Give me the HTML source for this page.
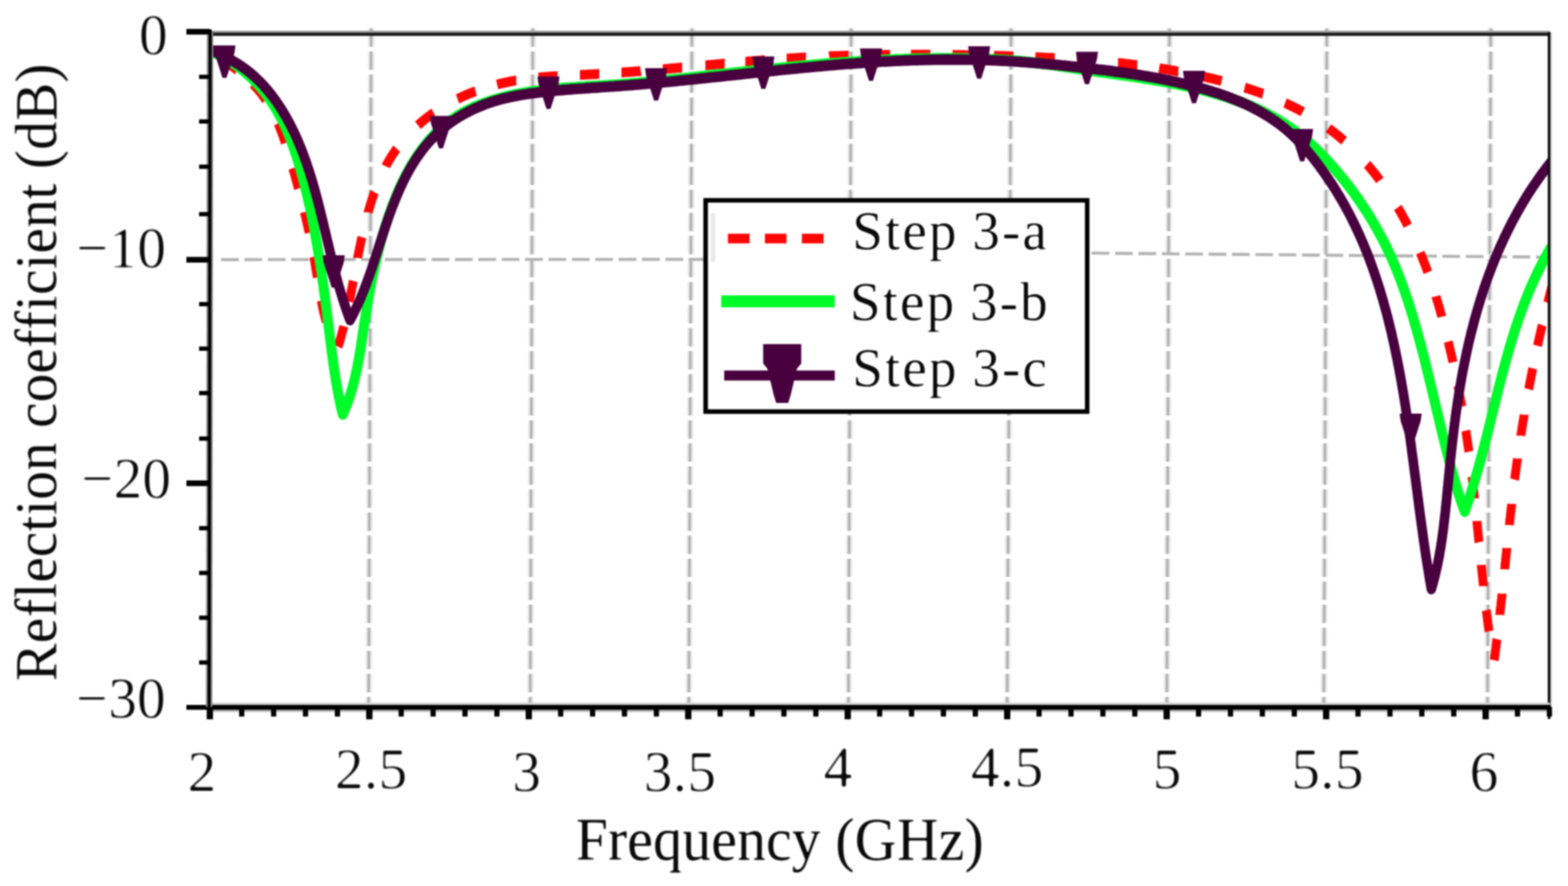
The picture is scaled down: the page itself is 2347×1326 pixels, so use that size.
<!DOCTYPE html>
<html lang="en"><head><meta charset="utf-8"><title>Reflection coefficient versus frequency</title>
<style>html,body{margin:0;padding:0;background:#fff}body{width:2347px;height:1326px;overflow:hidden}svg{display:block}text{font-family:"Liberation Serif","DejaVu Serif",serif;fill:#0a0a0a}</style>
</head><body>
<svg width="2347" height="1326" viewBox="0 0 2347 1326">
<rect width="2347" height="1326" fill="#fff"/>
<defs><clipPath id="plot"><rect x="314" y="40" width="2006" height="1020"/></clipPath><filter id="thin" x="-5%" y="-20%" width="110%" height="140%" color-interpolation-filters="sRGB"><feGaussianBlur stdDeviation="1.4"/><feComponentTransfer><feFuncA type="linear" slope="2.0" intercept="-0.72"/></feComponentTransfer></filter><filter id="blur" filterUnits="userSpaceOnUse" x="0" y="0" width="2347" height="1326" color-interpolation-filters="sRGB"><feGaussianBlur stdDeviation="1.25"/></filter><filter id="mild" x="-5%" y="-20%" width="110%" height="140%" color-interpolation-filters="sRGB"><feGaussianBlur stdDeviation="1.3"/><feComponentTransfer><feFuncA type="linear" slope="2.0" intercept="-0.68"/></feComponentTransfer></filter><filter id="soft" x="-5%" y="-5%" width="110%" height="110%" color-interpolation-filters="sRGB"><feGaussianBlur stdDeviation="1.0"/><feComponentTransfer><feFuncA type="linear" slope="1.6" intercept="-0.32"/></feComponentTransfer></filter></defs>
<g filter="url(#blur)">
<g stroke="#e8e8e8" stroke-width="9.4" stroke-dasharray="27.4 7.1" fill="none">
<line x1="555.6" y1="42.5" x2="551.8" y2="1054"/>
<line x1="797.5" y1="42.5" x2="793.6" y2="1054"/>
<line x1="1035.7" y1="42.5" x2="1031.0" y2="1054"/>
<line x1="1274.0" y1="42.5" x2="1270.0" y2="1054"/>
<line x1="1513.5" y1="42.5" x2="1507.5" y2="1054"/>
<line x1="1750.5" y1="42.5" x2="1746.5" y2="1054"/>
<line x1="1986.0" y1="42.5" x2="1981.5" y2="1054"/>
<line x1="2231.5" y1="42.5" x2="2226.5" y2="1054"/>
</g>
<g stroke="#b0b0b0" stroke-width="3.8" stroke-dasharray="27.4 7.1" fill="none">
<line x1="555.6" y1="42.5" x2="551.8" y2="1054"/>
<line x1="797.5" y1="42.5" x2="793.6" y2="1054"/>
<line x1="1035.7" y1="42.5" x2="1031.0" y2="1054"/>
<line x1="1274.0" y1="42.5" x2="1270.0" y2="1054"/>
<line x1="1513.5" y1="42.5" x2="1507.5" y2="1054"/>
<line x1="1750.5" y1="42.5" x2="1746.5" y2="1054"/>
<line x1="1986.0" y1="42.5" x2="1981.5" y2="1054"/>
<line x1="2231.5" y1="42.5" x2="2226.5" y2="1054"/>
</g>
<g stroke="#b4b4b4" stroke-width="4.6" stroke-dasharray="26.5 8.5" fill="none">
<line x1="331" y1="388.6" x2="1056" y2="388.1"/>
<line x1="1634" y1="378.8" x2="2319" y2="384.9"/>
</g>
<g fill="none" stroke-linejoin="round" clip-path="url(#plot)">
<g transform="scale(1,1.1)">
<path d="M329.9,79.4 L330.1,79.5 L331.9,80.5 L333.6,81.5 L335.4,82.6 L337.1,83.6 L338.9,84.6 L340.6,85.7 L342.3,86.8 L344.1,87.8 L345.8,88.9 L347.5,90.0 L349.2,91.2 L350.9,92.3 L352.6,93.4 L354.2,94.6 L354.5,94.7 M378.7,114.3 L379.2,114.8 L380.6,116.2 L382.0,117.5 L383.4,119.0 L384.8,120.4 L386.2,121.8 L387.5,123.3 L388.8,124.7 L390.1,126.2 L391.4,127.7 L392.7,129.3 L393.9,130.8 L395.1,132.3 L396.3,133.9 L397.5,135.5 L397.9,136.0 M416.2,167.7 L416.4,168.1 L417.2,169.9 L418.0,171.7 L418.8,173.6 L419.6,175.4 L420.4,177.3 L421.2,179.1 L422.0,181.0 L422.7,182.9 L423.5,184.8 L424.2,186.7 L424.9,188.6 L425.6,190.5 L426.3,192.4 L427.0,194.3 L427.1,194.6 M438.3,228.9 L438.4,229.2 L439.0,231.1 L439.6,233.1 L440.2,235.0 L440.8,236.9 L441.4,238.9 L442.0,240.8 L442.6,242.7 L443.1,244.7 L443.7,246.6 L444.3,248.5 L444.9,250.5 L445.5,252.4 L446.0,254.3 L446.6,256.3 L446.7,256.6 M455.7,288.6 L455.8,289.1 L456.3,291.0 L456.8,292.9 L457.4,294.9 L457.9,296.8 L458.3,298.7 L458.8,300.7 L459.3,302.6 L459.8,304.6 L460.3,306.5 L460.8,308.4 L461.2,310.4 L461.7,312.3 L462.2,314.3 L462.6,316.2 L462.7,316.7 M469.7,349.2 L469.8,349.6 L470.2,351.6 L470.6,353.5 L471.0,355.5 L471.4,357.5 L471.7,359.5 L472.1,361.5 L472.5,363.5 L472.8,365.4 L473.2,367.4 L473.5,369.4 L473.9,371.4 L474.3,373.4 L474.6,375.4 L475.0,377.4 L475.0,377.7 M480.8,408.8 L480.9,409.2 L481.4,411.2 L481.8,413.1 L482.2,415.1 L482.7,417.0 L483.1,419.0 L483.6,420.9 L484.1,422.9 L484.6,424.8 L485.1,426.8 L485.7,428.7 L486.2,430.6 L486.8,432.5 L487.3,434.4 L487.9,436.4 L488.1,436.8 M506.0,471.6 L506.3,470.9 L506.9,469.0 L507.6,467.2 L508.2,465.3 L508.8,463.5 L509.4,461.6 L510.0,459.7 L510.6,457.9 L511.1,456.0 L511.7,454.1 L512.2,452.2 L512.8,450.4 L513.3,448.5 L513.9,446.6 L514.4,444.7 L514.6,443.9 M522.8,410.6 L522.9,410.1 L523.3,408.1 L523.7,406.2 L524.2,404.2 L524.6,402.3 L525.0,400.3 L525.4,398.4 L525.8,396.4 L526.2,394.4 L526.7,392.5 L527.1,390.5 L527.5,388.5 L527.9,386.5 L528.3,384.6 L528.7,382.6 L528.8,382.2 M535.3,350.8 L535.3,350.7 L535.7,348.7 L536.2,346.7 L536.6,344.7 L537.0,342.7 L537.5,340.7 L537.9,338.7 L538.4,336.7 L538.9,334.7 L539.3,332.7 L539.8,330.7 L540.3,328.6 L540.7,326.6 L541.2,324.6 L541.7,322.6 L541.7,322.6 M551.0,288.8 L551.0,288.7 L551.6,286.8 L552.2,284.8 L552.9,282.8 L553.5,280.9 L554.2,278.9 L554.8,277.0 L555.5,275.1 L556.2,273.1 L556.9,271.2 L557.6,269.3 L558.3,267.4 L559.0,265.5 L559.7,263.6 L560.5,261.7 L560.6,261.5 M577.5,226.3 L577.8,225.6 L578.8,223.9 L579.8,222.2 L580.9,220.6 L581.9,218.9 L583.0,217.3 L584.1,215.6 L585.2,214.0 L586.3,212.4 L587.4,210.8 L588.5,209.2 L589.7,207.6 L590.9,206.1 L592.0,204.5 L593.2,203.0 L593.8,202.3 M625.5,170.4 L626.1,169.9 L627.6,168.7 L629.2,167.5 L630.7,166.3 L632.3,165.1 L633.9,163.9 L635.4,162.8 L637.0,161.6 L638.6,160.5 L640.2,159.4 L641.9,158.3 L643.5,157.2 L645.1,156.1 L646.8,155.0 L648.4,153.9 L649.1,153.5 M684.8,134.6 L685.3,134.4 L687.1,133.6 L688.9,132.8 L690.8,132.0 L692.6,131.2 L694.5,130.5 L696.4,129.7 L698.2,129.0 L700.1,128.3 L702.0,127.6 L703.9,126.9 L705.8,126.2 L707.7,125.5 L709.6,124.9 L711.5,124.2 L711.9,124.1 M744.1,114.9 L744.5,114.8 L746.5,114.4 L748.4,113.9 L750.4,113.5 L752.4,113.1 L754.4,112.7 L756.3,112.3 L758.3,111.9 L760.3,111.5 L762.3,111.2 L764.3,110.8 L766.2,110.5 L768.2,110.1 L770.2,109.8 L772.2,109.5 L772.6,109.5 M805.7,105.5 L806.1,105.5 L808.1,105.3 L810.1,105.1 L812.1,105.0 L814.1,104.8 L816.2,104.7 L818.2,104.5 L820.2,104.4 L822.2,104.2 L824.2,104.1 L826.2,104.0 L828.2,103.9 L830.2,103.7 L832.2,103.6 L834.2,103.5 L834.6,103.5 M868.0,101.9 L868.4,101.9 L870.4,101.8 L872.4,101.7 L874.4,101.7 L876.4,101.6 L878.5,101.5 L880.5,101.4 L882.5,101.3 L884.5,101.2 L886.5,101.1 L888.5,101.0 L890.5,100.9 L892.5,100.8 L894.5,100.7 L896.5,100.6 L897.0,100.6 M930.1,98.6 L930.6,98.6 L932.6,98.5 L934.6,98.3 L936.6,98.2 L938.6,98.1 L940.6,97.9 L942.6,97.8 L944.6,97.7 L946.6,97.5 L948.6,97.4 L950.6,97.2 L952.6,97.1 L954.6,97.0 L956.6,96.8 L958.6,96.7 L959.1,96.6 M992.0,94.1 L992.5,94.1 L994.5,93.9 L996.5,93.8 L998.5,93.6 L1000.5,93.5 L1002.5,93.3 L1004.5,93.1 L1006.5,93.0 L1008.5,92.8 L1010.5,92.7 L1012.5,92.5 L1014.5,92.3 L1016.5,92.2 L1018.5,92.0 L1020.5,91.8 L1021.0,91.8 M1055.8,88.9 L1056.3,88.9 L1058.3,88.7 L1060.3,88.5 L1062.3,88.4 L1064.3,88.2 L1066.3,88.0 L1068.3,87.9 L1070.3,87.7 L1072.3,87.5 L1074.2,87.4 L1076.2,87.2 L1078.2,87.0 L1080.2,86.9 L1082.2,86.7 L1084.2,86.5 L1084.7,86.5 M1115.6,84.0 L1116.1,84.0 L1118.1,83.9 L1120.1,83.7 L1122.0,83.5 L1124.0,83.4 L1126.0,83.2 L1128.0,83.1 L1130.0,82.9 L1132.0,82.8 L1134.0,82.7 L1136.0,82.5 L1138.0,82.4 L1140.0,82.2 L1142.0,82.1 L1144.0,81.9 L1144.5,81.9 M1177.4,79.7 L1177.9,79.7 L1179.9,79.6 L1181.9,79.4 L1183.8,79.3 L1185.8,79.2 L1187.8,79.1 L1189.8,79.0 L1191.8,78.9 L1193.8,78.8 L1195.8,78.7 L1197.8,78.5 L1199.8,78.4 L1201.8,78.3 L1203.8,78.2 L1205.8,78.1 L1206.3,78.1 M1241.3,76.6 L1241.8,76.5 L1243.8,76.5 L1245.8,76.4 L1247.8,76.3 L1249.8,76.3 L1251.8,76.2 L1253.8,76.1 L1255.8,76.1 L1257.8,76.0 L1259.8,75.9 L1261.8,75.9 L1263.8,75.8 L1265.8,75.7 L1267.8,75.7 L1269.8,75.6 L1270.3,75.6 M1303.4,74.9 L1303.8,74.9 L1305.8,74.8 L1307.8,74.8 L1309.8,74.7 L1311.9,74.7 L1313.9,74.7 L1315.9,74.7 L1317.9,74.6 L1319.9,74.6 L1321.9,74.6 L1323.9,74.6 L1325.9,74.5 L1327.9,74.5 L1329.9,74.5 L1331.9,74.5 L1332.4,74.5 M1363.5,74.3 L1364.0,74.3 L1366.0,74.3 L1368.0,74.3 L1370.0,74.3 L1372.0,74.3 L1374.0,74.3 L1376.0,74.3 L1378.0,74.3 L1380.0,74.3 L1382.0,74.3 L1384.0,74.3 L1386.0,74.3 L1388.0,74.4 L1390.0,74.4 L1392.0,74.4 L1392.5,74.4 M1425.7,74.7 L1426.1,74.7 L1428.1,74.7 L1430.1,74.8 L1432.1,74.8 L1434.1,74.8 L1436.1,74.8 L1438.1,74.9 L1440.1,74.9 L1442.2,74.9 L1444.2,75.0 L1446.2,75.0 L1448.2,75.0 L1450.2,75.1 L1452.2,75.1 L1454.2,75.2 L1454.6,75.2 M1487.8,75.9 L1488.2,75.9 L1490.2,76.0 L1492.3,76.0 L1494.3,76.1 L1496.3,76.1 L1498.3,76.2 L1500.3,76.2 L1502.3,76.3 L1504.3,76.3 L1506.3,76.4 L1508.3,76.4 L1510.3,76.5 L1512.3,76.6 L1514.3,76.6 L1516.3,76.7 L1516.8,76.7 M1549.8,77.8 L1550.3,77.8 L1552.3,77.9 L1554.3,78.0 L1556.3,78.0 L1558.3,78.1 L1560.3,78.2 L1562.3,78.3 L1564.3,78.4 L1566.3,78.5 L1568.3,78.5 L1570.3,78.6 L1572.3,78.7 L1574.3,78.8 L1576.3,78.9 L1578.3,79.0 L1578.8,79.0 M1611.7,80.8 L1612.2,80.8 L1614.2,80.9 L1616.2,81.1 L1618.2,81.2 L1620.2,81.3 L1622.2,81.5 L1624.2,81.6 L1626.2,81.7 L1628.2,81.9 L1630.2,82.0 L1632.2,82.1 L1634.2,82.3 L1636.1,82.4 L1638.1,82.6 L1640.1,82.7 L1640.6,82.8 M1673.5,85.6 L1674.0,85.6 L1676.0,85.8 L1677.9,86.0 L1679.9,86.2 L1681.9,86.4 L1683.9,86.6 L1685.9,86.8 L1687.9,87.0 L1689.9,87.2 L1691.9,87.4 L1693.8,87.7 L1695.8,87.9 L1697.8,88.1 L1699.8,88.3 L1701.8,88.6 L1702.3,88.6 M1735.0,92.8 L1735.5,92.9 L1737.5,93.2 L1739.4,93.5 L1741.4,93.7 L1743.4,94.0 L1745.4,94.3 L1747.4,94.6 L1749.3,94.9 L1751.3,95.2 L1753.3,95.6 L1755.3,95.9 L1757.3,96.2 L1759.2,96.5 L1761.2,96.8 L1763.2,97.2 L1763.7,97.2 M1800.3,104.0 L1800.7,104.1 L1802.6,104.5 L1804.6,104.9 L1806.6,105.3 L1808.5,105.7 L1810.5,106.2 L1812.5,106.6 L1814.5,107.0 L1816.4,107.4 L1818.4,107.9 L1820.4,108.3 L1822.3,108.8 L1824.3,109.2 L1826.2,109.7 L1828.2,110.1 L1828.6,110.2 M1863.0,119.1 L1863.4,119.2 L1865.3,119.8 L1867.2,120.4 L1869.2,120.9 L1871.1,121.5 L1873.0,122.1 L1875.0,122.7 L1876.9,123.3 L1878.8,123.9 L1880.7,124.5 L1882.6,125.1 L1884.6,125.7 L1886.5,126.3 L1888.4,127.0 L1890.3,127.6 L1890.7,127.7 M1923.5,140.1 L1924.0,140.3 L1925.9,141.1 L1927.7,141.9 L1929.5,142.7 L1931.4,143.5 L1933.2,144.3 L1935.0,145.1 L1936.8,145.9 L1938.6,146.7 L1940.4,147.6 L1942.2,148.4 L1944.0,149.3 L1945.8,150.2 L1947.6,151.0 L1949.4,151.9 L1949.9,152.2 M1988.4,174.4 L1988.9,174.8 L1990.6,175.9 L1992.2,177.0 L1993.8,178.1 L1995.4,179.3 L1997.1,180.4 L1998.7,181.6 L2000.3,182.8 L2001.9,183.9 L2003.5,185.1 L2005.1,186.3 L2006.6,187.5 L2008.2,188.8 L2009.8,190.0 L2011.3,191.2 L2011.8,191.6 M2046.3,223.6 L2046.6,223.9 L2048.0,225.4 L2049.3,226.8 L2050.7,228.3 L2052.0,229.8 L2053.4,231.3 L2054.7,232.8 L2056.1,234.3 L2057.4,235.8 L2058.7,237.4 L2060.0,238.9 L2061.3,240.4 L2062.6,242.0 L2063.9,243.5 L2065.2,245.1 L2065.4,245.4 M2092.2,282.3 L2092.4,282.6 L2093.5,284.3 L2094.6,286.0 L2095.7,287.7 L2096.8,289.4 L2097.8,291.1 L2098.9,292.8 L2099.9,294.6 L2100.9,296.3 L2102.0,298.0 L2103.0,299.7 L2104.0,301.5 L2105.0,303.2 L2106.0,305.0 L2107.0,306.7 L2107.2,307.1 M2125.8,343.7 L2126.0,344.2 L2126.8,346.0 L2127.6,347.8 L2128.4,349.6 L2129.2,351.5 L2130.0,353.3 L2130.8,355.1 L2131.6,357.0 L2132.4,358.8 L2133.2,360.7 L2134.0,362.5 L2134.7,364.3 L2135.5,366.2 L2136.2,368.0 L2137.0,369.9 L2137.2,370.4 M2149.3,403.2 L2149.4,403.7 L2150.1,405.6 L2150.7,407.5 L2151.3,409.4 L2152.0,411.3 L2152.6,413.2 L2153.2,415.1 L2153.8,417.0 L2154.4,418.9 L2155.0,420.8 L2155.6,422.7 L2156.2,424.7 L2156.8,426.6 L2157.4,428.5 L2158.0,430.4 L2158.1,430.9 M2167.7,464.7 L2167.8,465.1 L2168.3,467.1 L2168.8,469.0 L2169.3,471.0 L2169.8,472.9 L2170.3,474.8 L2170.8,476.8 L2171.3,478.7 L2171.8,480.7 L2172.3,482.6 L2172.8,484.6 L2173.3,486.5 L2173.8,488.5 L2174.2,490.4 L2174.7,492.3 L2174.8,492.8 M2182.2,525.0 L2182.3,525.5 L2182.8,527.5 L2183.2,529.4 L2183.6,531.4 L2184.0,533.4 L2184.4,535.3 L2184.8,537.3 L2185.2,539.2 L2185.6,541.2 L2186.0,543.2 L2186.4,545.1 L2186.8,547.1 L2187.2,549.0 L2187.6,551.0 L2188.0,553.0 L2188.1,553.4 M2194.0,585.9 L2194.1,586.4 L2194.5,588.4 L2194.8,590.4 L2195.1,592.3 L2195.4,594.3 L2195.8,596.3 L2196.1,598.2 L2196.4,600.2 L2196.7,602.2 L2197.0,604.2 L2197.3,606.1 L2197.6,608.1 L2198.0,610.1 L2198.3,612.1 L2198.5,614.1 L2198.6,614.6 M2203.5,649.2 L2203.5,649.7 L2203.8,651.7 L2204.0,653.7 L2204.3,655.7 L2204.5,657.7 L2204.8,659.6 L2205.0,661.6 L2205.3,663.6 L2205.5,665.6 L2205.8,667.6 L2206.0,669.6 L2206.3,671.6 L2206.5,673.6 L2206.7,675.5 L2207.0,677.5 L2207.0,678.0 M2210.6,708.9 L2210.6,709.4 L2210.9,711.3 L2211.1,713.3 L2211.3,715.3 L2211.5,717.3 L2211.7,719.3 L2212.0,721.3 L2212.2,723.3 L2212.4,725.3 L2212.6,727.3 L2212.8,729.3 L2213.1,731.3 L2213.3,733.2 L2213.5,735.2 L2213.7,737.2 L2213.8,737.7 M2217.2,768.6 L2217.2,769.1 L2217.5,771.1 L2217.7,773.1 L2217.9,775.0 L2218.1,777.0 L2218.4,779.0 L2218.6,781.0 L2218.8,783.0 L2219.1,785.0 L2219.3,787.0 L2219.5,789.0 L2219.8,791.0 L2220.0,792.9 L2220.2,794.9 L2220.5,796.9 L2220.5,797.4 M2224.7,830.2 L2224.8,830.7 L2225.0,832.7 L2225.3,834.6 L2225.6,836.6 L2225.8,838.6 L2226.1,840.6 L2226.4,842.6 L2226.7,844.6 L2227.0,846.5 L2227.2,848.5 L2227.5,850.5 L2227.8,852.5 L2228.1,854.5 L2228.4,856.4 L2228.7,858.4 L2228.8,858.9 M2236.5,898.3 L2236.6,897.8 L2236.9,895.9 L2237.2,893.9 L2237.5,891.9 L2237.8,889.9 L2238.0,887.9 L2238.3,885.9 L2238.6,883.9 L2238.9,881.9 L2239.2,879.9 L2239.4,878.0 L2239.7,876.0 L2240.0,874.0 L2240.3,872.0 L2240.5,870.0 L2240.6,869.6 M2244.9,836.5 L2244.9,836.1 L2245.2,834.1 L2245.4,832.1 L2245.6,830.1 L2245.9,828.1 L2246.1,826.1 L2246.4,824.1 L2246.6,822.1 L2246.9,820.1 L2247.1,818.1 L2247.3,816.1 L2247.6,814.1 L2247.8,812.1 L2248.0,810.1 L2248.3,808.1 L2248.3,807.7 M2252.2,774.5 L2252.2,774.1 L2252.5,772.1 L2252.7,770.1 L2252.9,768.1 L2253.1,766.1 L2253.4,764.1 L2253.6,762.1 L2253.8,760.1 L2254.1,758.1 L2254.3,756.1 L2254.5,754.1 L2254.8,752.1 L2255.0,750.1 L2255.2,748.1 L2255.5,746.1 L2255.5,745.7 M2259.2,714.4 L2259.2,714.1 L2259.5,712.1 L2259.7,710.1 L2259.9,708.1 L2260.2,706.1 L2260.4,704.1 L2260.7,702.1 L2260.9,700.1 L2261.2,698.1 L2261.4,696.1 L2261.7,694.1 L2261.9,692.1 L2262.2,690.1 L2262.4,688.1 L2262.7,686.1 L2262.7,685.7 M2267.1,652.5 L2267.2,652.1 L2267.5,650.1 L2267.8,648.1 L2268.0,646.1 L2268.3,644.1 L2268.6,642.1 L2268.9,640.1 L2269.2,638.2 L2269.5,636.2 L2269.8,634.2 L2270.1,632.2 L2270.4,630.2 L2270.7,628.2 L2271.0,626.2 L2271.3,624.2 L2271.3,623.8 M2276.4,592.8 L2276.4,592.4 L2276.8,590.4 L2277.1,588.4 L2277.5,586.5 L2277.8,584.5 L2278.1,582.5 L2278.5,580.5 L2278.8,578.5 L2279.2,576.5 L2279.5,574.6 L2279.9,572.6 L2280.3,570.6 L2280.6,568.6 L2281.0,566.6 L2281.4,564.6 L2281.4,564.3 M2288.2,529.5 L2288.3,529.1 L2288.7,527.1 L2289.1,525.1 L2289.5,523.2 L2289.9,521.2 L2290.4,519.2 L2290.8,517.3 L2291.2,515.3 L2291.6,513.3 L2292.0,511.3 L2292.5,509.4 L2292.9,507.4 L2293.3,505.4 L2293.8,503.5 L2294.2,501.5 L2294.3,501.1 M2301.4,470.5 L2301.5,470.1 L2301.9,468.1 L2302.4,466.2 L2302.9,464.2 L2303.4,462.3 L2303.8,460.3 L2304.3,458.4 L2304.8,456.4 L2305.3,454.5 L2305.8,452.5 L2306.3,450.5 L2306.8,448.6 L2307.3,446.6 L2307.8,444.7 L2308.3,442.7 L2308.4,442.4 M2316.6,411.9 L2316.7,411.6 L2317.3,409.6 L2317.8,407.7 L2318.4,405.7 L2318.9,403.8 L2319.5,401.9 L2320.0,399.9 L2320.6,398.0 L2321.1,396.0 L2321.7,394.1 L2322.3,392.2 L2322.9,390.2 L2323.4,388.3 L2324.0,386.4" stroke="#ff0505" stroke-width="13.3"/>
<path d="M314.0,69.1 L317.9,70.5 L321.7,72.0 L325.5,73.6 L329.2,75.3 L332.9,77.0 L336.5,78.9 L340.1,80.7 L343.7,82.7 L347.2,84.7 L350.6,86.8 L354.0,89.0 L357.3,91.2 L360.6,93.5 L363.9,95.9 L367.1,98.3 L370.2,100.8 L373.3,103.3 L376.3,105.9 L379.3,108.6 L382.2,111.3 L385.1,114.1 L387.9,116.9 L390.6,119.8 L393.3,122.7 L396.0,125.7 L398.6,128.8 L401.1,131.8 L403.6,135.0 L406.0,138.1 L408.3,141.3 L410.6,144.6 L412.8,147.9 L415.0,151.2 L417.1,154.6 L419.2,158.0 L421.1,161.5 L423.1,165.0 L425.0,168.5 L426.8,172.1 L428.6,175.7 L430.3,179.3 L432.0,182.9 L433.6,186.6 L435.2,190.3 L436.7,194.0 L438.3,197.7 L439.7,201.5 L441.1,205.2 L442.5,209.0 L443.9,212.8 L445.2,216.7 L446.5,220.5 L447.8,224.4 L449.0,228.2 L450.2,232.1 L451.4,235.9 L452.6,239.8 L453.7,243.7 L454.8,247.6 L455.9,251.5 L457.0,255.4 L458.0,259.3 L459.1,263.2 L460.1,267.1 L461.1,271.0 L462.1,274.9 L463.0,278.8 L464.0,282.7 L464.9,286.6 L465.8,290.5 L466.7,294.5 L467.6,298.4 L468.4,302.3 L469.3,306.2 L470.1,310.2 L470.9,314.1 L471.7,318.0 L472.5,322.0 L473.3,325.9 L474.0,329.9 L474.8,333.8 L475.5,337.8 L476.2,341.7 L476.9,345.7 L477.6,349.6 L478.3,353.6 L479.0,357.5 L479.7,361.5 L480.3,365.4 L481.0,369.4 L481.6,373.4 L482.2,377.3 L482.8,381.3 L483.5,385.3 L484.1,389.2 L484.7,393.2 L485.3,397.2 L485.8,401.2 L486.4,405.1 L487.0,409.1 L487.6,413.1 L488.1,417.1 L488.7,421.0 L489.2,425.0 L489.8,429.0 L490.3,433.0 L490.9,437.0 L491.4,441.0 L492.0,444.9 L492.5,448.9 L493.0,452.9 L493.6,456.9 L494.1,460.9 L494.7,464.9 L495.2,468.8 L495.8,472.8 L496.3,476.8 L496.9,480.8 L497.5,484.8 L498.1,488.7 L498.7,492.7 L499.3,496.7 L499.9,500.6 L500.6,504.6 L501.2,508.6 L501.9,512.5 L502.6,516.5 L503.3,520.4 L504.1,524.4 L504.9,528.3 L505.6,532.3 L506.5,536.2 L507.3,540.2 L508.2,544.1 L509.1,548.0 L510.0,551.9 L511.0,555.8 L512.0,559.7 L513.0,563.6 L514.8,560.0 L516.5,556.4 L518.2,552.7 L519.8,549.0 L521.3,545.3 L522.7,541.6 L524.1,537.8 L525.4,534.1 L526.6,530.3 L527.8,526.5 L529.0,522.6 L530.1,518.8 L531.1,514.9 L532.1,511.1 L533.0,507.2 L533.9,503.3 L534.8,499.4 L535.6,495.5 L536.4,491.6 L537.2,487.6 L537.9,483.7 L538.7,479.8 L539.4,475.8 L540.1,471.9 L540.7,467.9 L541.4,463.9 L542.1,460.0 L542.7,456.0 L543.3,452.1 L544.0,448.1 L544.6,444.2 L545.3,440.2 L546.0,436.3 L546.6,432.3 L547.3,428.4 L548.0,424.5 L548.7,420.6 L549.4,416.6 L550.2,412.7 L550.9,408.8 L551.7,404.9 L552.4,401.0 L553.2,397.1 L554.0,393.2 L554.8,389.3 L555.6,385.4 L556.5,381.5 L557.3,377.6 L558.2,373.7 L559.1,369.9 L560.0,366.0 L561.0,362.1 L561.9,358.3 L562.9,354.4 L563.9,350.6 L564.9,346.7 L566.0,342.9 L567.0,339.0 L568.1,335.2 L569.3,331.3 L570.4,327.5 L571.6,323.7 L572.8,319.8 L574.0,316.0 L575.3,312.2 L576.6,308.4 L577.9,304.6 L579.2,300.8 L580.6,297.0 L582.0,293.2 L583.5,289.4 L585.0,285.6 L586.5,281.8 L588.0,278.1 L589.6,274.3 L591.2,270.6 L592.9,266.9 L594.6,263.2 L596.3,259.6 L598.1,255.9 L599.9,252.3 L601.8,248.7 L603.7,245.1 L605.6,241.6 L607.6,238.1 L609.6,234.6 L611.7,231.2 L613.8,227.8 L616.0,224.4 L618.2,221.0 L620.5,217.8 L622.8,214.5 L625.2,211.3 L627.6,208.1 L630.0,205.0 L632.5,201.9 L635.1,198.9 L637.7,196.0 L640.4,193.0 L643.1,190.2 L645.9,187.4 L648.7,184.6 L651.6,181.9 L654.6,179.3 L657.6,176.7 L660.7,174.2 L663.8,171.8 L667.0,169.4 L670.2,167.1 L673.5,164.9 L676.8,162.7 L680.2,160.6 L683.6,158.6 L687.1,156.6 L690.6,154.7 L694.2,152.9 L697.8,151.1 L701.4,149.4 L705.1,147.8 L708.8,146.2 L712.5,144.8 L716.2,143.3 L720.0,142.0 L723.8,140.7 L727.7,139.4 L731.5,138.2 L735.4,137.1 L739.3,136.0 L743.2,135.0 L747.1,134.0 L751.0,133.0 L754.9,132.1 L758.8,131.2 L762.7,130.4 L766.7,129.6 L770.6,128.8 L774.6,128.1 L778.5,127.4 L782.5,126.8 L786.4,126.2 L790.4,125.6 L794.4,125.0 L798.3,124.5 L802.3,124.0 L806.3,123.5 L810.3,123.0 L814.2,122.6 L818.2,122.2 L822.2,121.8 L826.2,121.4 L830.2,121.0 L834.2,120.7 L838.2,120.4 L842.2,120.1 L846.2,119.8 L850.2,119.5 L854.2,119.3 L858.3,119.0 L862.3,118.8 L866.3,118.5 L870.3,118.3 L874.3,118.1 L878.3,117.8 L882.3,117.6 L886.3,117.4 L890.4,117.2 L894.4,117.0 L898.4,116.8 L902.4,116.6 L906.4,116.3 L910.4,116.1 L914.4,115.9 L918.4,115.6 L922.4,115.4 L926.4,115.1 L930.4,114.9 L934.4,114.6 L938.4,114.3 L942.4,114.0 L946.4,113.7 L950.4,113.4 L954.4,113.1 L958.4,112.7 L962.3,112.4 L966.3,112.1 L970.3,111.7 L974.3,111.4 L978.3,111.0 L982.3,110.7 L986.2,110.3 L990.2,109.9 L994.2,109.6 L998.2,109.2 L1002.2,108.8 L1006.1,108.4 L1010.1,108.0 L1014.1,107.6 L1018.1,107.2 L1022.0,106.8 L1026.0,106.5 L1030.0,106.1 L1034.0,105.7 L1037.9,105.3 L1041.9,104.9 L1045.9,104.5 L1049.9,104.1 L1053.9,103.7 L1057.8,103.3 L1061.8,102.9 L1065.8,102.5 L1069.8,102.1 L1073.8,101.7 L1077.8,101.3 L1081.7,100.9 L1085.7,100.5 L1089.7,100.1 L1093.7,99.7 L1097.7,99.3 L1101.7,98.9 L1105.6,98.5 L1109.6,98.1 L1113.6,97.7 L1117.6,97.3 L1121.6,97.0 L1125.6,96.6 L1129.6,96.2 L1133.6,95.8 L1137.5,95.4 L1141.5,95.1 L1145.5,94.7 L1149.5,94.3 L1153.5,93.9 L1157.5,93.6 L1161.5,93.2 L1165.5,92.9 L1169.5,92.5 L1173.5,92.1 L1177.5,91.8 L1181.5,91.4 L1185.4,91.1 L1189.4,90.7 L1193.4,90.4 L1197.4,90.1 L1201.4,89.7 L1205.4,89.4 L1209.4,89.1 L1213.4,88.8 L1217.4,88.4 L1221.4,88.1 L1225.4,87.8 L1229.4,87.5 L1233.4,87.2 L1237.4,86.9 L1241.4,86.6 L1245.4,86.3 L1249.4,86.1 L1253.4,85.8 L1257.4,85.5 L1261.4,85.2 L1265.4,85.0 L1269.4,84.7 L1273.4,84.5 L1277.4,84.2 L1281.4,84.0 L1285.4,83.7 L1289.4,83.5 L1293.4,83.3 L1297.4,83.0 L1301.4,82.8 L1305.4,82.6 L1309.4,82.4 L1313.4,82.2 L1317.4,82.0 L1321.4,81.9 L1325.4,81.7 L1329.4,81.5 L1333.4,81.3 L1337.4,81.2 L1341.4,81.0 L1345.4,80.9 L1349.4,80.8 L1353.4,80.6 L1357.4,80.5 L1361.4,80.4 L1365.4,80.3 L1369.4,80.2 L1373.4,80.1 L1377.4,80.0 L1381.4,79.9 L1385.4,79.9 L1389.4,79.8 L1393.4,79.7 L1397.4,79.7 L1401.4,79.7 L1405.4,79.6 L1409.4,79.6 L1413.4,79.6 L1417.4,79.6 L1421.4,79.6 L1425.4,79.6 L1429.4,79.6 L1433.5,79.7 L1437.5,79.7 L1441.5,79.8 L1445.5,79.8 L1449.5,79.9 L1453.5,80.0 L1457.5,80.1 L1461.5,80.2 L1465.5,80.3 L1469.5,80.4 L1473.5,80.5 L1477.5,80.7 L1481.5,80.8 L1485.5,81.0 L1489.5,81.2 L1493.5,81.4 L1497.5,81.6 L1501.5,81.8 L1505.5,82.0 L1509.5,82.3 L1513.5,82.5 L1517.5,82.8 L1521.4,83.1 L1525.4,83.4 L1529.4,83.7 L1533.4,84.0 L1537.4,84.3 L1541.4,84.7 L1545.4,85.1 L1549.4,85.4 L1553.4,85.8 L1557.3,86.2 L1561.3,86.7 L1565.3,87.1 L1569.3,87.6 L1573.3,88.0 L1577.2,88.5 L1581.2,89.0 L1585.2,89.5 L1589.2,90.0 L1593.1,90.6 L1597.1,91.1 L1601.1,91.6 L1605.1,92.2 L1609.0,92.7 L1613.0,93.3 L1617.0,93.8 L1620.9,94.4 L1624.9,94.9 L1628.9,95.4 L1632.8,95.9 L1636.8,96.5 L1640.8,97.0 L1644.8,97.5 L1648.7,98.0 L1652.7,98.5 L1656.7,99.0 L1660.6,99.5 L1664.6,100.0 L1668.6,100.5 L1672.5,101.1 L1676.5,101.6 L1680.5,102.1 L1684.4,102.6 L1688.4,103.1 L1692.4,103.6 L1696.3,104.2 L1700.3,104.7 L1704.3,105.3 L1708.2,105.8 L1712.2,106.4 L1716.1,106.9 L1720.1,107.5 L1724.0,108.1 L1728.0,108.7 L1732.0,109.3 L1735.9,109.9 L1739.9,110.6 L1743.8,111.2 L1747.8,111.9 L1751.7,112.6 L1755.6,113.3 L1759.6,114.0 L1763.5,114.7 L1767.5,115.4 L1771.4,116.2 L1775.3,117.0 L1779.3,117.8 L1783.2,118.6 L1787.1,119.4 L1791.1,120.3 L1795.0,121.2 L1798.9,122.1 L1802.8,123.0 L1806.8,124.0 L1810.7,124.9 L1814.6,125.9 L1818.5,127.0 L1822.4,128.0 L1826.2,129.1 L1830.1,130.2 L1834.0,131.3 L1837.8,132.5 L1841.7,133.7 L1845.5,134.9 L1849.3,136.2 L1853.1,137.4 L1856.9,138.8 L1860.7,140.1 L1864.5,141.5 L1868.2,142.9 L1872.0,144.3 L1875.7,145.8 L1879.4,147.3 L1883.1,148.9 L1886.8,150.5 L1890.4,152.1 L1894.0,153.8 L1897.7,155.5 L1901.2,157.2 L1904.8,159.0 L1908.4,160.8 L1911.9,162.7 L1915.4,164.6 L1918.8,166.5 L1922.3,168.5 L1925.7,170.5 L1929.1,172.6 L1932.5,174.7 L1935.8,176.8 L1939.1,179.0 L1942.4,181.3 L1945.7,183.6 L1948.9,185.9 L1952.1,188.3 L1955.3,190.7 L1958.4,193.2 L1961.5,195.7 L1964.6,198.3 L1967.6,200.9 L1970.7,203.5 L1973.7,206.2 L1976.6,208.9 L1979.6,211.6 L1982.5,214.4 L1985.4,217.2 L1988.2,220.0 L1991.1,222.9 L1993.9,225.7 L1996.7,228.6 L1999.5,231.5 L2002.2,234.5 L2004.9,237.4 L2007.6,240.4 L2010.3,243.4 L2013.0,246.4 L2015.6,249.5 L2018.2,252.5 L2020.8,255.6 L2023.3,258.7 L2025.9,261.8 L2028.4,265.0 L2030.8,268.1 L2033.3,271.3 L2035.7,274.5 L2038.1,277.7 L2040.5,281.0 L2042.8,284.2 L2045.2,287.5 L2047.5,290.8 L2049.7,294.1 L2052.0,297.4 L2054.2,300.7 L2056.3,304.1 L2058.5,307.5 L2060.6,310.9 L2062.7,314.3 L2064.8,317.7 L2066.8,321.2 L2068.8,324.6 L2070.8,328.1 L2072.7,331.6 L2074.7,335.1 L2076.5,338.6 L2078.4,342.2 L2080.2,345.7 L2082.0,349.3 L2083.8,352.9 L2085.5,356.5 L2087.2,360.1 L2088.9,363.7 L2090.5,367.4 L2092.1,371.0 L2093.7,374.7 L2095.3,378.4 L2096.8,382.1 L2098.3,385.8 L2099.8,389.5 L2101.3,393.2 L2102.7,396.9 L2104.1,400.7 L2105.5,404.4 L2106.9,408.2 L2108.3,412.0 L2109.6,415.7 L2110.9,419.5 L2112.2,423.3 L2113.5,427.1 L2114.8,430.9 L2116.0,434.7 L2117.2,438.6 L2118.4,442.4 L2119.6,446.2 L2120.8,450.0 L2122.0,453.9 L2123.2,457.7 L2124.3,461.5 L2125.5,465.4 L2126.6,469.2 L2127.7,473.1 L2128.8,476.9 L2129.9,480.8 L2131.0,484.6 L2132.1,488.5 L2133.1,492.4 L2134.2,496.2 L2135.2,500.1 L2136.3,504.0 L2137.3,507.8 L2138.4,511.7 L2139.4,515.6 L2140.4,519.4 L2141.4,523.3 L2142.5,527.2 L2143.5,531.0 L2144.5,534.9 L2145.5,538.8 L2146.5,542.7 L2147.5,546.5 L2148.5,550.4 L2149.5,554.3 L2150.6,558.2 L2151.6,562.0 L2152.6,565.9 L2153.6,569.8 L2154.6,573.6 L2155.6,577.5 L2156.6,581.4 L2157.7,585.2 L2158.7,589.1 L2159.7,593.0 L2160.8,596.8 L2161.8,600.7 L2162.9,604.6 L2163.9,608.4 L2165.0,612.3 L2166.1,616.1 L2167.2,620.0 L2168.3,623.8 L2169.4,627.6 L2170.5,631.5 L2171.6,635.3 L2172.8,639.1 L2173.9,643.0 L2175.1,646.8 L2176.3,650.6 L2177.5,654.4 L2178.8,658.2 L2180.0,662.0 L2181.3,665.8 L2182.6,669.6 L2183.9,673.4 L2185.3,677.1 L2186.6,680.9 L2188.0,684.7 L2189.5,688.4 L2190.9,692.2 L2192.4,695.9 L2193.9,692.2 L2195.3,688.4 L2196.7,684.6 L2198.1,680.9 L2199.5,677.1 L2200.8,673.3 L2202.1,669.5 L2203.4,665.7 L2204.7,661.9 L2206.0,658.0 L2207.3,654.2 L2208.5,650.4 L2209.7,646.5 L2211.0,642.7 L2212.2,638.8 L2213.3,635.0 L2214.5,631.1 L2215.7,627.3 L2216.8,623.4 L2218.0,619.5 L2219.1,615.6 L2220.2,611.8 L2221.3,607.9 L2222.4,604.0 L2223.5,600.1 L2224.6,596.2 L2225.7,592.3 L2226.8,588.4 L2227.8,584.5 L2228.9,580.6 L2230.0,576.7 L2231.0,572.8 L2232.1,568.9 L2233.2,565.0 L2234.2,561.1 L2235.3,557.2 L2236.3,553.3 L2237.4,549.4 L2238.5,545.5 L2239.5,541.6 L2240.6,537.7 L2241.7,533.8 L2242.7,529.9 L2243.8,526.0 L2244.9,522.1 L2246.0,518.2 L2247.1,514.3 L2248.2,510.4 L2249.3,506.6 L2250.5,502.7 L2251.6,498.8 L2252.8,494.9 L2253.9,491.1 L2255.1,487.2 L2256.3,483.4 L2257.5,479.5 L2258.7,475.7 L2259.9,471.8 L2261.2,468.0 L2262.4,464.2 L2263.7,460.4 L2265.0,456.6 L2266.3,452.7 L2267.6,449.0 L2269.0,445.2 L2270.4,441.4 L2271.8,437.6 L2273.2,433.8 L2274.6,430.1 L2276.1,426.3 L2277.5,422.6 L2279.1,418.9 L2280.6,415.1 L2282.1,411.4 L2283.7,407.7 L2285.3,404.0 L2287.0,400.4 L2288.6,396.7 L2290.3,393.0 L2292.0,389.4 L2293.8,385.8 L2295.6,382.1 L2297.4,378.5 L2299.2,374.9 L2301.1,371.3 L2303.0,367.8 L2305.0,364.2 L2307.0,360.7 L2309.0,357.1 L2311.0,353.6 L2313.1,350.1 L2315.2,346.6 L2317.4,343.2 L2319.6,339.7 L2321.9,336.3" stroke="#00fb2a" stroke-width="15"/>
<path d="M314.0,67.3 L317.7,68.8 L321.5,70.4 L325.2,71.9 L329.0,73.6 L332.7,75.2 L336.3,76.9 L340.0,78.6 L343.7,80.4 L347.3,82.3 L350.8,84.2 L354.4,86.1 L357.9,88.1 L361.3,90.2 L364.7,92.3 L368.0,94.5 L371.3,96.8 L374.6,99.2 L377.7,101.6 L380.9,104.1 L383.9,106.7 L386.9,109.3 L389.9,112.0 L392.8,114.8 L395.6,117.6 L398.4,120.5 L401.2,123.4 L403.8,126.4 L406.5,129.4 L409.0,132.5 L411.6,135.6 L414.1,138.8 L416.5,142.0 L418.9,145.3 L421.2,148.6 L423.5,151.9 L425.7,155.3 L427.9,158.7 L430.0,162.1 L432.1,165.5 L434.1,169.0 L436.1,172.5 L438.0,176.1 L439.9,179.6 L441.8,183.2 L443.6,186.8 L445.3,190.4 L447.0,194.0 L448.7,197.6 L450.3,201.3 L451.9,205.0 L453.5,208.7 L455.0,212.4 L456.5,216.1 L458.0,219.8 L459.4,223.6 L460.8,227.4 L462.2,231.1 L463.5,234.9 L464.8,238.7 L466.1,242.5 L467.4,246.4 L468.6,250.2 L469.8,254.0 L471.0,257.9 L472.2,261.8 L473.3,265.6 L474.5,269.5 L475.6,273.4 L476.7,277.3 L477.8,281.2 L478.9,285.1 L479.9,289.0 L481.0,292.9 L482.0,296.8 L483.1,300.7 L484.1,304.6 L485.1,308.5 L486.2,312.5 L487.2,316.4 L488.2,320.3 L489.2,324.2 L490.2,328.2 L491.3,332.1 L492.3,336.0 L493.3,339.9 L494.3,343.8 L495.4,347.7 L496.4,351.6 L497.5,355.5 L498.6,359.4 L499.6,363.3 L500.7,367.2 L501.8,371.1 L503.0,375.0 L504.1,378.8 L505.3,382.7 L506.4,386.5 L507.6,390.4 L508.9,394.2 L510.1,398.0 L511.4,401.8 L512.6,405.6 L514.0,409.4 L515.3,413.1 L516.7,416.9 L518.1,420.6 L519.5,424.4 L521.0,428.1 L522.5,431.8 L524.0,435.5 L526.1,432.0 L528.1,428.4 L530.1,424.9 L532.0,421.4 L533.8,417.8 L535.7,414.2 L537.4,410.6 L539.2,407.0 L540.8,403.4 L542.5,399.8 L544.1,396.1 L545.7,392.5 L547.2,388.8 L548.8,385.1 L550.2,381.4 L551.7,377.7 L553.2,374.0 L554.6,370.3 L556.0,366.6 L557.4,362.9 L558.7,359.1 L560.1,355.4 L561.4,351.6 L562.8,347.9 L564.1,344.1 L565.5,340.4 L566.8,336.6 L568.1,332.8 L569.5,329.1 L570.8,325.3 L572.1,321.5 L573.5,317.7 L574.9,314.0 L576.2,310.2 L577.6,306.4 L579.1,302.6 L580.5,298.9 L581.9,295.1 L583.4,291.3 L584.9,287.6 L586.5,283.8 L588.0,280.1 L589.6,276.4 L591.2,272.7 L592.9,269.0 L594.6,265.3 L596.3,261.6 L598.0,258.0 L599.8,254.4 L601.7,250.8 L603.5,247.2 L605.5,243.7 L607.4,240.2 L609.4,236.7 L611.5,233.3 L613.6,229.9 L615.7,226.5 L617.9,223.2 L620.2,219.9 L622.5,216.6 L624.9,213.4 L627.3,210.3 L629.8,207.1 L632.3,204.1 L634.9,201.0 L637.6,198.1 L640.3,195.2 L643.0,192.3 L645.9,189.5 L648.8,186.8 L651.7,184.1 L654.7,181.5 L657.7,178.9 L660.8,176.4 L664.0,174.0 L667.2,171.7 L670.5,169.4 L673.8,167.2 L677.1,165.0 L680.5,162.9 L683.9,160.9 L687.4,159.0 L690.9,157.1 L694.4,155.2 L698.0,153.5 L701.6,151.8 L705.3,150.1 L708.9,148.5 L712.6,147.0 L716.4,145.5 L720.1,144.1 L723.9,142.7 L727.7,141.4 L731.5,140.2 L735.4,139.0 L739.2,137.9 L743.1,136.8 L747.0,135.8 L750.9,134.8 L754.8,133.9 L758.8,133.1 L762.7,132.3 L766.7,131.5 L770.6,130.8 L774.6,130.1 L778.5,129.5 L782.5,128.9 L786.5,128.3 L790.5,127.7 L794.5,127.2 L798.5,126.7 L802.4,126.3 L806.4,125.8 L810.4,125.4 L814.4,125.0 L818.4,124.6 L822.4,124.2 L826.4,123.8 L830.4,123.5 L834.4,123.1 L838.4,122.8 L842.4,122.5 L846.4,122.2 L850.4,121.9 L854.4,121.6 L858.4,121.3 L862.4,121.0 L866.4,120.8 L870.4,120.5 L874.4,120.3 L878.4,120.0 L882.4,119.8 L886.3,119.5 L890.3,119.3 L894.3,119.1 L898.3,118.8 L902.3,118.6 L906.3,118.3 L910.3,118.1 L914.3,117.8 L918.3,117.6 L922.3,117.3 L926.3,117.1 L930.3,116.8 L934.3,116.5 L938.3,116.3 L942.3,116.0 L946.3,115.7 L950.3,115.4 L954.2,115.1 L958.2,114.8 L962.2,114.5 L966.2,114.2 L970.2,113.8 L974.2,113.5 L978.2,113.2 L982.2,112.9 L986.1,112.5 L990.1,112.2 L994.1,111.9 L998.1,111.5 L1002.1,111.2 L1006.1,110.8 L1010.1,110.5 L1014.0,110.1 L1018.0,109.7 L1022.0,109.4 L1026.0,109.0 L1030.0,108.6 L1034.0,108.3 L1038.0,107.9 L1041.9,107.5 L1045.9,107.2 L1049.9,106.8 L1053.9,106.4 L1057.9,106.0 L1061.9,105.6 L1065.8,105.2 L1069.8,104.9 L1073.8,104.5 L1077.8,104.1 L1081.8,103.7 L1085.8,103.3 L1089.7,102.9 L1093.7,102.5 L1097.7,102.1 L1101.7,101.8 L1105.7,101.4 L1109.7,101.0 L1113.6,100.6 L1117.6,100.2 L1121.6,99.8 L1125.6,99.4 L1129.6,99.0 L1133.6,98.7 L1137.6,98.3 L1141.5,97.9 L1145.5,97.5 L1149.5,97.1 L1153.5,96.7 L1157.5,96.4 L1161.5,96.0 L1165.4,95.6 L1169.4,95.2 L1173.4,94.9 L1177.4,94.5 L1181.4,94.1 L1185.4,93.8 L1189.4,93.4 L1193.4,93.1 L1197.4,92.7 L1201.3,92.3 L1205.3,92.0 L1209.3,91.7 L1213.3,91.3 L1217.3,91.0 L1221.3,90.6 L1225.3,90.3 L1229.3,90.0 L1233.3,89.7 L1237.3,89.3 L1241.3,89.0 L1245.3,88.7 L1249.2,88.4 L1253.2,88.1 L1257.2,87.8 L1261.2,87.5 L1265.2,87.2 L1269.2,87.0 L1273.2,86.7 L1277.2,86.4 L1281.2,86.2 L1285.2,85.9 L1289.2,85.7 L1293.2,85.4 L1297.2,85.2 L1301.2,84.9 L1305.2,84.7 L1309.2,84.5 L1313.2,84.3 L1317.2,84.0 L1321.2,83.8 L1325.2,83.6 L1329.3,83.5 L1333.3,83.3 L1337.3,83.1 L1341.3,82.9 L1345.3,82.8 L1349.3,82.6 L1353.3,82.4 L1357.3,82.3 L1361.3,82.2 L1365.3,82.0 L1369.3,81.9 L1373.3,81.8 L1377.3,81.7 L1381.3,81.6 L1385.3,81.5 L1389.3,81.4 L1393.3,81.4 L1397.3,81.3 L1401.3,81.2 L1405.3,81.2 L1409.3,81.1 L1413.4,81.1 L1417.4,81.1 L1421.4,81.1 L1425.4,81.1 L1429.4,81.1 L1433.4,81.1 L1437.4,81.1 L1441.4,81.1 L1445.4,81.2 L1449.4,81.2 L1453.4,81.3 L1457.4,81.3 L1461.4,81.4 L1465.4,81.5 L1469.4,81.6 L1473.4,81.7 L1477.4,81.8 L1481.4,82.0 L1485.4,82.1 L1489.4,82.2 L1493.4,82.4 L1497.4,82.6 L1501.4,82.7 L1505.4,82.9 L1509.4,83.1 L1513.4,83.3 L1517.4,83.6 L1521.4,83.8 L1525.3,84.0 L1529.3,84.3 L1533.3,84.5 L1537.3,84.8 L1541.3,85.1 L1545.3,85.4 L1549.3,85.6 L1553.3,85.9 L1557.3,86.3 L1561.3,86.6 L1565.2,86.9 L1569.2,87.2 L1573.2,87.6 L1577.2,87.9 L1581.2,88.2 L1585.2,88.6 L1589.2,89.0 L1593.1,89.3 L1597.1,89.7 L1601.1,90.1 L1605.1,90.5 L1609.1,90.9 L1613.1,91.3 L1617.0,91.6 L1621.0,92.1 L1625.0,92.5 L1629.0,92.9 L1633.0,93.3 L1636.9,93.7 L1640.9,94.1 L1644.9,94.6 L1648.9,95.0 L1652.8,95.4 L1656.8,95.9 L1660.8,96.3 L1664.8,96.8 L1668.7,97.3 L1672.7,97.8 L1676.7,98.3 L1680.6,98.8 L1684.6,99.3 L1688.6,99.8 L1692.5,100.3 L1696.5,100.9 L1700.5,101.4 L1704.4,102.0 L1708.4,102.6 L1712.3,103.2 L1716.3,103.8 L1720.3,104.4 L1724.2,105.0 L1728.2,105.7 L1732.1,106.3 L1736.1,107.0 L1740.0,107.7 L1744.0,108.4 L1747.9,109.1 L1751.8,109.9 L1755.8,110.7 L1759.7,111.4 L1763.7,112.2 L1767.6,113.1 L1771.5,113.9 L1775.4,114.8 L1779.4,115.6 L1783.3,116.5 L1787.2,117.5 L1791.1,118.4 L1795.1,119.4 L1799.0,120.4 L1802.9,121.4 L1806.8,122.4 L1810.7,123.5 L1814.6,124.6 L1818.5,125.7 L1822.3,126.8 L1826.2,128.0 L1830.0,129.2 L1833.9,130.5 L1837.7,131.7 L1841.5,133.0 L1845.3,134.4 L1849.1,135.8 L1852.8,137.2 L1856.6,138.6 L1860.3,140.1 L1864.0,141.6 L1867.7,143.2 L1871.3,144.8 L1874.9,146.5 L1878.5,148.2 L1882.1,149.9 L1885.7,151.7 L1889.2,153.5 L1892.7,155.4 L1896.2,157.3 L1899.6,159.3 L1903.0,161.3 L1906.4,163.4 L1909.7,165.5 L1913.0,167.6 L1916.3,169.9 L1919.5,172.1 L1922.7,174.5 L1925.8,176.9 L1928.9,179.3 L1932.0,181.8 L1935.0,184.4 L1938.0,187.0 L1941.0,189.7 L1943.9,192.4 L1946.8,195.1 L1949.6,197.9 L1952.4,200.8 L1955.2,203.7 L1958.0,206.6 L1960.7,209.6 L1963.3,212.5 L1966.0,215.6 L1968.6,218.6 L1971.2,221.7 L1973.8,224.8 L1976.3,227.9 L1978.8,231.1 L1981.3,234.2 L1983.8,237.4 L1986.2,240.6 L1988.6,243.8 L1991.0,247.1 L1993.4,250.3 L1995.7,253.6 L1998.0,256.9 L2000.3,260.2 L2002.5,263.5 L2004.7,266.9 L2006.9,270.2 L2009.0,273.6 L2011.2,277.0 L2013.3,280.4 L2015.3,283.8 L2017.4,287.3 L2019.4,290.7 L2021.4,294.2 L2023.3,297.7 L2025.2,301.2 L2027.1,304.7 L2029.0,308.2 L2030.8,311.7 L2032.6,315.3 L2034.4,318.9 L2036.2,322.5 L2037.9,326.0 L2039.6,329.7 L2041.3,333.3 L2042.9,336.9 L2044.6,340.5 L2046.2,344.2 L2047.8,347.9 L2049.3,351.5 L2050.8,355.2 L2052.3,358.9 L2053.8,362.6 L2055.3,366.4 L2056.7,370.1 L2058.1,373.8 L2059.5,377.6 L2060.9,381.3 L2062.2,385.1 L2063.6,388.9 L2064.9,392.7 L2066.1,396.5 L2067.4,400.3 L2068.6,404.1 L2069.9,407.9 L2071.1,411.7 L2072.2,415.5 L2073.4,419.4 L2074.6,423.2 L2075.7,427.1 L2076.8,430.9 L2077.9,434.8 L2078.9,438.7 L2080.0,442.5 L2081.0,446.4 L2082.1,450.3 L2083.1,454.2 L2084.0,458.1 L2085.0,462.0 L2086.0,465.9 L2086.9,469.8 L2087.8,473.7 L2088.7,477.6 L2089.6,481.5 L2090.5,485.4 L2091.4,489.4 L2092.2,493.3 L2093.1,497.2 L2093.9,501.1 L2094.7,505.1 L2095.5,509.0 L2096.3,512.9 L2097.1,516.9 L2097.8,520.8 L2098.6,524.7 L2099.3,528.7 L2100.1,532.6 L2100.8,536.5 L2101.5,540.5 L2102.2,544.4 L2102.9,548.4 L2103.6,552.3 L2104.2,556.3 L2104.9,560.2 L2105.6,564.1 L2106.2,568.1 L2106.9,572.0 L2107.5,576.0 L2108.1,579.9 L2108.7,583.9 L2109.4,587.8 L2110.0,591.8 L2110.6,595.7 L2111.2,599.7 L2111.8,603.7 L2112.4,607.6 L2112.9,611.6 L2113.5,615.5 L2114.1,619.5 L2114.7,623.4 L2115.3,627.4 L2115.8,631.4 L2116.4,635.3 L2117.0,639.3 L2117.5,643.2 L2118.1,647.2 L2118.7,651.1 L2119.2,655.1 L2119.8,659.1 L2120.3,663.0 L2120.9,667.0 L2121.5,670.9 L2122.0,674.9 L2122.6,678.9 L2123.2,682.8 L2123.7,686.8 L2124.3,690.7 L2124.9,694.7 L2125.4,698.7 L2126.0,702.6 L2126.6,706.6 L2127.2,710.5 L2127.8,714.5 L2128.4,718.4 L2129.0,722.4 L2129.6,726.3 L2130.2,730.3 L2130.8,734.3 L2131.4,738.2 L2132.1,742.2 L2132.7,746.1 L2133.3,750.1 L2134.0,754.0 L2134.6,758.0 L2135.3,761.9 L2136.0,765.9 L2136.7,769.8 L2137.4,773.8 L2138.1,777.7 L2138.8,781.7 L2139.5,785.6 L2140.2,789.5 L2141.0,793.5 L2141.7,797.4 L2142.5,801.4 L2143.7,797.5 L2144.9,793.6 L2146.1,789.7 L2147.2,785.8 L2148.2,781.9 L2149.3,778.0 L2150.2,774.1 L2151.2,770.2 L2152.1,766.3 L2152.9,762.4 L2153.8,758.5 L2154.6,754.5 L2155.3,750.6 L2156.1,746.6 L2156.8,742.7 L2157.4,738.8 L2158.1,734.8 L2158.7,730.9 L2159.3,726.9 L2159.9,722.9 L2160.5,719.0 L2161.0,715.0 L2161.5,711.0 L2162.0,707.1 L2162.5,703.1 L2163.0,699.1 L2163.5,695.1 L2163.9,691.2 L2164.4,687.2 L2164.8,683.2 L2165.3,679.2 L2165.7,675.2 L2166.1,671.3 L2166.5,667.3 L2166.9,663.3 L2167.4,659.3 L2167.8,655.3 L2168.2,651.3 L2168.6,647.3 L2169.1,643.4 L2169.5,639.4 L2169.9,635.4 L2170.4,631.4 L2170.8,627.4 L2171.3,623.4 L2171.8,619.5 L2172.2,615.5 L2172.7,611.5 L2173.2,607.5 L2173.7,603.5 L2174.2,599.5 L2174.7,595.6 L2175.2,591.6 L2175.7,587.6 L2176.3,583.6 L2176.8,579.6 L2177.4,575.7 L2178.0,571.7 L2178.5,567.7 L2179.1,563.7 L2179.7,559.8 L2180.4,555.8 L2181.0,551.8 L2181.6,547.9 L2182.3,543.9 L2183.0,539.9 L2183.7,536.0 L2184.4,532.0 L2185.1,528.0 L2185.8,524.1 L2186.6,520.1 L2187.3,516.2 L2188.1,512.2 L2188.9,508.3 L2189.7,504.3 L2190.6,500.4 L2191.4,496.5 L2192.3,492.5 L2193.2,488.6 L2194.1,484.7 L2195.0,480.7 L2195.9,476.8 L2196.9,472.9 L2197.8,469.0 L2198.8,465.1 L2199.8,461.2 L2200.9,457.3 L2201.9,453.4 L2203.0,449.6 L2204.1,445.7 L2205.2,441.8 L2206.3,438.0 L2207.4,434.1 L2208.6,430.3 L2209.8,426.4 L2211.0,422.6 L2212.2,418.8 L2213.5,415.0 L2214.8,411.2 L2216.0,407.3 L2217.4,403.6 L2218.7,399.8 L2220.1,396.0 L2221.4,392.2 L2222.8,388.5 L2224.3,384.7 L2225.7,381.0 L2227.2,377.2 L2228.7,373.5 L2230.2,369.8 L2231.8,366.1 L2233.3,362.4 L2234.9,358.8 L2236.5,355.1 L2238.2,351.4 L2239.8,347.8 L2241.5,344.1 L2243.2,340.5 L2244.9,336.9 L2246.7,333.3 L2248.5,329.7 L2250.3,326.2 L2252.1,322.6 L2254.0,319.1 L2255.9,315.5 L2257.8,312.0 L2259.7,308.5 L2261.7,305.0 L2263.6,301.5 L2265.7,298.1 L2267.7,294.6 L2269.8,291.2 L2271.8,287.8 L2274.0,284.4 L2276.1,281.0 L2278.3,277.6 L2280.5,274.3 L2282.7,271.0 L2284.9,267.6 L2287.2,264.3 L2289.5,261.0 L2291.8,257.8 L2294.2,254.5 L2296.6,251.3 L2299.0,248.1 L2301.4,244.9 L2303.9,241.7 L2306.4,238.5 L2308.9,235.4 L2311.5,232.3 L2314.1,229.2 L2316.7,226.1 L2319.3,223.0 L2322.0,220.0" stroke="#48003f" stroke-width="14.4"/>
</g>
<g fill="#48003f" stroke="none">
<path transform="translate(336.0,90.0)" d="M-16.5,-22 L16.5,-22 L15,-11 L3,26.5 L-3,26.5 L-15,-11 Z"/>
<path transform="translate(499.5,404.0)" d="M-16.5,-22 L16.5,-22 L15,-11 L3,26.5 L-3,26.5 L-15,-11 Z"/>
<path transform="translate(660.0,195.6)" d="M-16.5,-22 L16.5,-22 L15,-11 L3,26.5 L-3,26.5 L-15,-11 Z"/>
<path transform="translate(821.0,136.5)" d="M-16.5,-22 L16.5,-22 L15,-11 L3,26.5 L-3,26.5 L-15,-11 Z"/>
<path transform="translate(982.0,124.0)" d="M-16.5,-22 L16.5,-22 L15,-11 L3,26.5 L-3,26.5 L-15,-11 Z"/>
<path transform="translate(1142.6,106.5)" d="M-16.5,-22 L16.5,-22 L15,-11 L3,26.5 L-3,26.5 L-15,-11 Z"/>
<path transform="translate(1303.7,94.5)" d="M-16.5,-22 L16.5,-22 L15,-11 L3,26.5 L-3,26.5 L-15,-11 Z"/>
<path transform="translate(1465.6,91.3)" d="M-16.5,-22 L16.5,-22 L15,-11 L3,26.5 L-3,26.5 L-15,-11 Z"/>
<path transform="translate(1627.0,99.5)" d="M-16.5,-22 L16.5,-22 L15,-11 L3,26.5 L-3,26.5 L-15,-11 Z"/>
<path transform="translate(1787.2,128.0)" d="M-16.5,-22 L16.5,-22 L15,-11 L3,26.5 L-3,26.5 L-15,-11 Z"/>
<path transform="translate(1949.0,215.0)" d="M-16.5,-22 L16.5,-22 L15,-11 L3,26.5 L-3,26.5 L-15,-11 Z"/>
<path transform="translate(2111.5,641.0)" d="M-16.5,-22 L16.5,-22 L15,-11 L3,26.5 L-3,26.5 L-15,-11 Z"/>
</g>
</g>
<g fill="none" stroke-linecap="butt">
<line x1="316" y1="47.6" x2="2320" y2="47.6" stroke="#9a9a9a" stroke-width="3.2"/>
<line x1="316" y1="51.4" x2="2320" y2="51.4" stroke="#1c1c1c" stroke-width="4.6"/>
<line x1="2321.6" y1="48" x2="2321.6" y2="1060" stroke="#d4d4d4" stroke-width="2.5"/>
<line x1="2318.7" y1="48" x2="2318.7" y2="1076" stroke="#0c0c0c" stroke-width="4"/>
<line x1="316" y1="1053.2" x2="2320" y2="1053.2" stroke="#cfcfcf" stroke-width="3.4"/>
<line x1="316" y1="1063.6" x2="2320" y2="1063.6" stroke="#b6b6b6" stroke-width="3.6"/>
<line x1="279" y1="1058.6" x2="2321" y2="1058.6" stroke="#000" stroke-width="7.2"/>
<line x1="314.4" y1="46" x2="313.0" y2="1058" stroke="#8c8c8c" stroke-width="9.6"/>
<line x1="314.6" y1="44" x2="313.0" y2="1076" stroke="#000" stroke-width="4.6"/>
<g stroke="#000">
<line x1="279" y1="47.5" x2="314" y2="47.5" stroke-width="8.4"/>
<line x1="298" y1="115" x2="314" y2="115" stroke-width="6.4"/>
<line x1="298" y1="181.8" x2="314" y2="181.8" stroke-width="6.4"/>
<line x1="298" y1="249.5" x2="314" y2="249.5" stroke-width="6.4"/>
<line x1="298" y1="320.5" x2="314" y2="320.5" stroke-width="6.4"/>
<line x1="279" y1="388.7" x2="314" y2="388.7" stroke-width="8.4"/>
<line x1="298" y1="455.2" x2="314" y2="455.2" stroke-width="6.4"/>
<line x1="298" y1="521.8" x2="314" y2="521.8" stroke-width="6.4"/>
<line x1="298" y1="588.3" x2="314" y2="588.3" stroke-width="6.4"/>
<line x1="298" y1="656.4" x2="314" y2="656.4" stroke-width="6.4"/>
<line x1="279" y1="723.3" x2="314" y2="723.3" stroke-width="8.4"/>
<line x1="298" y1="790.5" x2="314" y2="790.5" stroke-width="6.4"/>
<line x1="298" y1="857.5" x2="314" y2="857.5" stroke-width="6.4"/>
<line x1="298" y1="924.5" x2="314" y2="924.5" stroke-width="6.4"/>
<line x1="298" y1="991.5" x2="314" y2="991.5" stroke-width="6.4"/>
<line x1="314.1" y1="1058" x2="314.1" y2="1076.5" stroke-width="9.4"/>
<line x1="361.8" y1="1058" x2="361.8" y2="1072.4" stroke-width="7.8"/>
<line x1="409.6" y1="1058" x2="409.6" y2="1072.4" stroke-width="7.8"/>
<line x1="457.3" y1="1058" x2="457.3" y2="1072.4" stroke-width="7.8"/>
<line x1="505.1" y1="1058" x2="505.1" y2="1072.4" stroke-width="7.8"/>
<line x1="552.8" y1="1058" x2="552.8" y2="1076.5" stroke-width="9.4"/>
<line x1="600.5" y1="1058" x2="600.5" y2="1072.4" stroke-width="7.8"/>
<line x1="648.3" y1="1058" x2="648.3" y2="1072.4" stroke-width="7.8"/>
<line x1="696.0" y1="1058" x2="696.0" y2="1072.4" stroke-width="7.8"/>
<line x1="743.8" y1="1058" x2="743.8" y2="1072.4" stroke-width="7.8"/>
<line x1="791.5" y1="1058" x2="791.5" y2="1076.5" stroke-width="9.4"/>
<line x1="839.2" y1="1058" x2="839.2" y2="1072.4" stroke-width="7.8"/>
<line x1="887.0" y1="1058" x2="887.0" y2="1072.4" stroke-width="7.8"/>
<line x1="934.7" y1="1058" x2="934.7" y2="1072.4" stroke-width="7.8"/>
<line x1="982.5" y1="1058" x2="982.5" y2="1072.4" stroke-width="7.8"/>
<line x1="1030.2" y1="1058" x2="1030.2" y2="1076.5" stroke-width="9.4"/>
<line x1="1077.9" y1="1058" x2="1077.9" y2="1072.4" stroke-width="7.8"/>
<line x1="1125.7" y1="1058" x2="1125.7" y2="1072.4" stroke-width="7.8"/>
<line x1="1173.4" y1="1058" x2="1173.4" y2="1072.4" stroke-width="7.8"/>
<line x1="1221.2" y1="1058" x2="1221.2" y2="1072.4" stroke-width="7.8"/>
<line x1="1268.9" y1="1058" x2="1268.9" y2="1076.5" stroke-width="9.4"/>
<line x1="1316.6" y1="1058" x2="1316.6" y2="1072.4" stroke-width="7.8"/>
<line x1="1364.4" y1="1058" x2="1364.4" y2="1072.4" stroke-width="7.8"/>
<line x1="1412.1" y1="1058" x2="1412.1" y2="1072.4" stroke-width="7.8"/>
<line x1="1459.9" y1="1058" x2="1459.9" y2="1072.4" stroke-width="7.8"/>
<line x1="1507.6" y1="1058" x2="1507.6" y2="1076.5" stroke-width="9.4"/>
<line x1="1555.3" y1="1058" x2="1555.3" y2="1072.4" stroke-width="7.8"/>
<line x1="1603.1" y1="1058" x2="1603.1" y2="1072.4" stroke-width="7.8"/>
<line x1="1650.8" y1="1058" x2="1650.8" y2="1072.4" stroke-width="7.8"/>
<line x1="1698.6" y1="1058" x2="1698.6" y2="1072.4" stroke-width="7.8"/>
<line x1="1746.3" y1="1058" x2="1746.3" y2="1076.5" stroke-width="9.4"/>
<line x1="1794.0" y1="1058" x2="1794.0" y2="1072.4" stroke-width="7.8"/>
<line x1="1841.8" y1="1058" x2="1841.8" y2="1072.4" stroke-width="7.8"/>
<line x1="1889.5" y1="1058" x2="1889.5" y2="1072.4" stroke-width="7.8"/>
<line x1="1937.3" y1="1058" x2="1937.3" y2="1072.4" stroke-width="7.8"/>
<line x1="1985.0" y1="1058" x2="1985.0" y2="1076.5" stroke-width="9.4"/>
<line x1="2032.7" y1="1058" x2="2032.7" y2="1072.4" stroke-width="7.8"/>
<line x1="2080.5" y1="1058" x2="2080.5" y2="1072.4" stroke-width="7.8"/>
<line x1="2128.2" y1="1058" x2="2128.2" y2="1072.4" stroke-width="7.8"/>
<line x1="2176.0" y1="1058" x2="2176.0" y2="1072.4" stroke-width="7.8"/>
<line x1="2223.7" y1="1058" x2="2223.7" y2="1076.5" stroke-width="9.4"/>
<line x1="2271.4" y1="1058" x2="2271.4" y2="1072.4" stroke-width="7.8"/>
<line x1="2319.2" y1="1058" x2="2319.2" y2="1072.4" stroke-width="7.8"/>
</g></g>
<g filter="url(#thin)">
<text x="251" y="81" font-size="86" text-anchor="end">0</text>
<text x="248.5" y="400" font-size="86" text-anchor="end">−10</text>
<text x="256" y="745" font-size="86" text-anchor="end">−20</text>
<text x="248" y="1073.6" font-size="86" text-anchor="end">−30</text>
<g font-size="86" text-anchor="middle" letter-spacing="0.4">
<text x="302.5" y="1183.8">2</text>
<text x="555.5" y="1180.2">2.5</text>
<text x="788.5" y="1184">3</text>
<text x="1017.8" y="1184">3.5</text>
<text x="1254.5" y="1177">4</text>
<text x="1507.5" y="1177">4.5</text>
<text x="1747" y="1180.4">5</text>
<text x="1987" y="1180.4">5.5</text>
<text x="2221.5" y="1183.6">6</text>
</g>
</g>
<g filter="url(#soft)">
<text transform="translate(1167,1286.6) scale(1,1.04)" font-size="87" text-anchor="middle">Frequency (GHz)</text>
<text transform="translate(83.8,557.7) rotate(-90) scale(1,1.04)" font-size="86" text-anchor="middle">Reflection coefficient (dB)</text>
</g>
<rect x="1056.2" y="299.8" width="571.1" height="316.2" fill="#fff" stroke="#000" stroke-width="6.8"/>
<rect x="1064" y="319" width="6.6" height="73" fill="#e9e9e9"/>
<line x1="1089.5" y1="357" x2="1240" y2="357" stroke="#ff0505" stroke-width="14.5" stroke-dasharray="32.4 23"/>
<line x1="1079.5" y1="451" x2="1249.5" y2="451" stroke="#00fb2a" stroke-width="18"/>
<line x1="1084" y1="562" x2="1249.5" y2="562" stroke="#48003f" stroke-width="15"/>
<path transform="translate(1170.8,562)" fill="#48003f" d="M-28.5,-47 L28.5,-47 L28.5,-18 L22,-10 L13,28 L9,41 L-9,41 L-13,28 L-22,-10 L-28.5,-18 Z"/>
<g font-size="83" letter-spacing="2.9" word-spacing="-3" filter="url(#mild)">
<text x="1275.5" y="373.3">Step 3-a</text>
<text x="1272" y="478.8">Step 3-b</text>
<text x="1275.5" y="578.2">Step 3-c</text>
</g>
</g>
</svg></body></html>
